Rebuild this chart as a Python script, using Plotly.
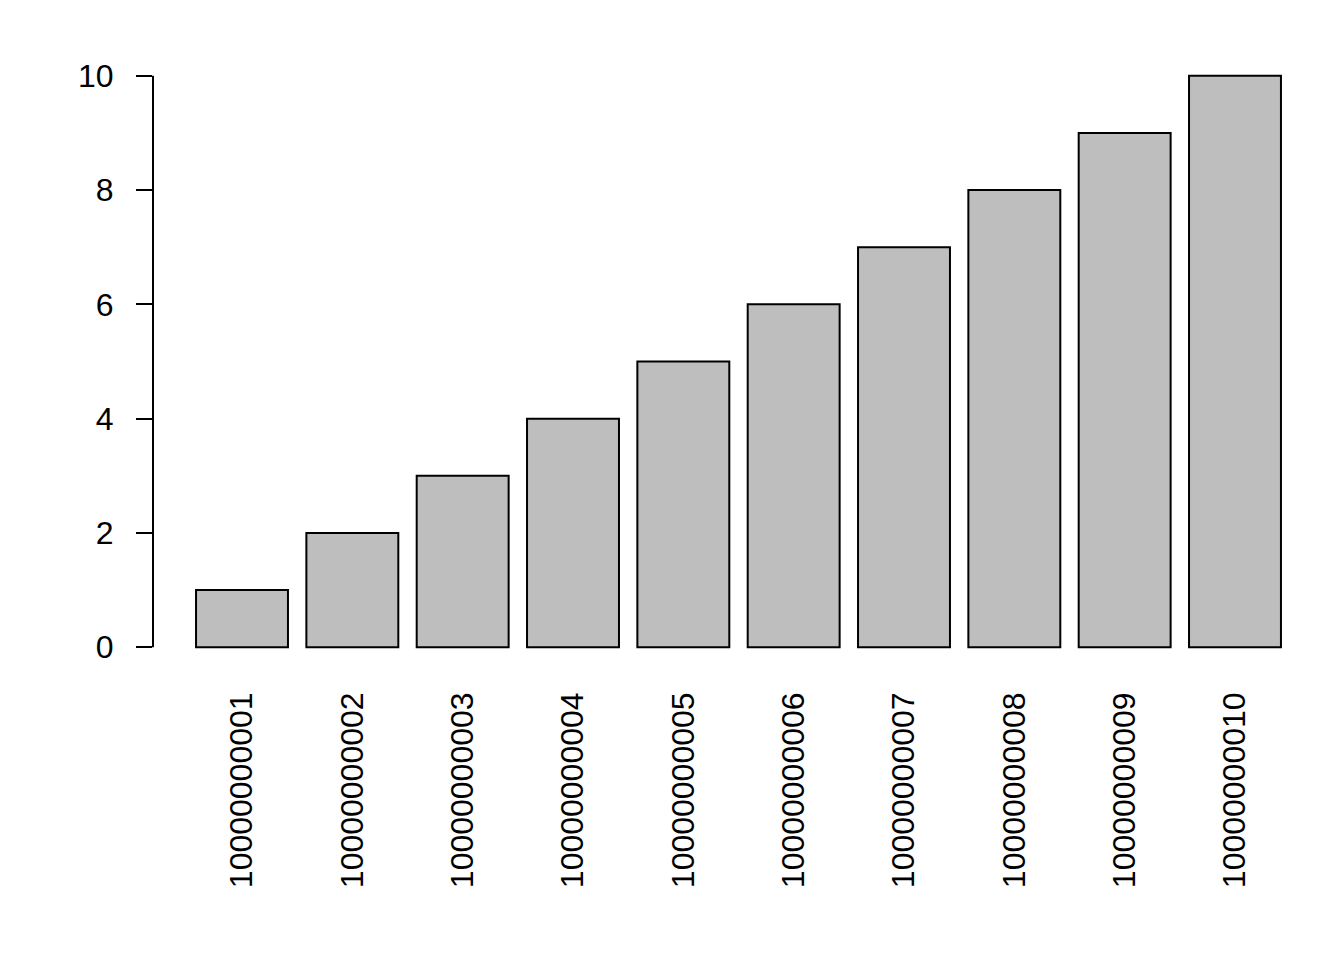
import plotly.graph_objects as go

categories = ["10000000001", "10000000002", "10000000003", "10000000004", "10000000005",
              "10000000006", "10000000007", "10000000008", "10000000009", "10000000010"]
values = [1, 2, 3, 4, 5, 6, 7, 8, 9, 10]
y_ticks = [0, 2, 4, 6, 8, 10]

fig = go.Figure()
fig.add_trace(go.Bar(
    x=categories, y=values,
    marker=dict(color="#BEBEBE", line=dict(color="black", width=2)),
    width=0.8333,
))

fig.add_shape(type="line", xref="paper", yref="y", x0=0, x1=0,
              y0=min(y_ticks), y1=max(y_ticks), line=dict(color="black", width=2))

fig.update_layout(
    width=1344, height=960,
    margin=dict(l=145, r=28, t=45, b=298),
    plot_bgcolor="white", paper_bgcolor="white",
    showlegend=False,
    font=dict(family="Liberation Sans, Arial", size=32, color="black"),
    xaxis=dict(
        type="category", range=[-0.8067, 9.8067],
        tickangle=-90, showgrid=False, showline=False, ticks="",
        zeroline=False, ticklabelstandoff=15,
        tickfont=dict(size=32),
    ),
    yaxis=dict(
        range=[-0.4, 10.4], tickvals=y_ticks, ticktext=[str(v) for v in y_ticks],
        showgrid=False, zeroline=False, showline=False,
        ticks="outside", ticklen=16, tickwidth=2, tickcolor="black",
        ticklabelstandoff=16, tickfont=dict(size=32),
    ),
    bargap=0.1667,
)

fig.write_html("out.html")
